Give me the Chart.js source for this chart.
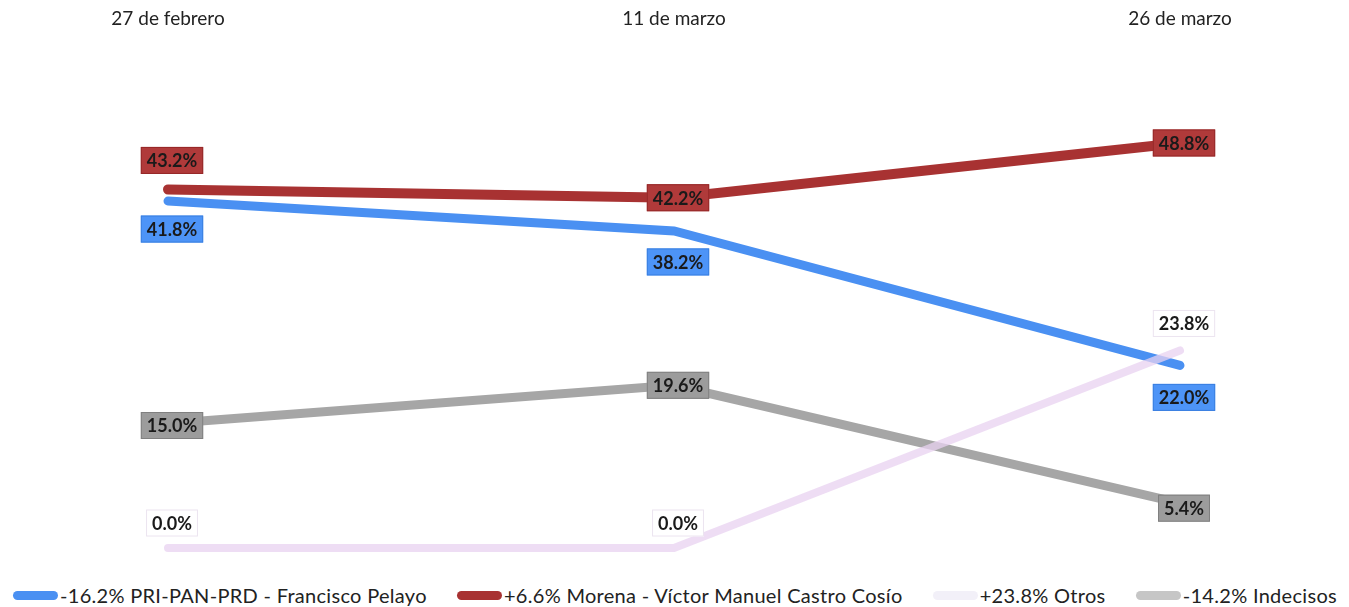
<!DOCTYPE html>
<html>
<head>
<meta charset="utf-8">
<script src="https://cdn.jsdelivr.net/npm/chart.js@4.4.1/dist/chart.umd.min.js"></script>
<style>
  html, body { margin: 0; padding: 0; background: #fff; }
  #wrap { position: relative; width: 1349px; height: 607px; }
  #chart { position: absolute; left: 0; top: 0; }
  #legend {
    position: absolute; left: 13px; right: 12px; top: 582px; height: 26px;
    display: flex; justify-content: space-between; align-items: center;
    font-family: Lato, "Open Sans", sans-serif; font-size: 20px; letter-spacing: 0.3px; color: #222;
  }
  .item { display: flex; align-items: center; white-space: nowrap; }
  .swatch { width: 45px; height: 9px; border-radius: 5px; margin-right: 2px; }
</style>
</head>
<body>
<div id="wrap">
  <canvas id="chart" width="1349" height="575"></canvas>
  <div id="legend"></div>
</div>
<script>
// valores
const fechas = ["27 de febrero", "11 de marzo", "26 de marzo"];
const priPanPrd = [41.8, 38.2, 22.0];
const morena = [43.2, 42.2, 48.8];
const otros = [0.0, 0.0, 23.8];
const indecisos = [15.0, 19.6, 5.4];
const leyendas = [
  "-16.2% PRI-PAN-PRD - Francisco Pelayo",
  "+6.6% Morena - Víctor Manuel Castro Cosío",
  "+23.8% Otros",
  "-14.2% Indecisos",
];

// etiquetas de valor en cajas
const boxLabels = {
  id: "boxLabels",
  afterDatasetsDraw(chart) {
    const ctx = chart.ctx;
    ctx.save();
    ctx.font = "bold 18px Lato, 'Open Sans', sans-serif";
    ctx.textAlign = "center";
    ctx.textBaseline = "middle";
    chart.data.datasets.forEach((ds, i) => {
      const meta = chart.getDatasetMeta(i);
      meta.data.forEach((pt, j) => {
        const txt = ds.data[j].toFixed(1) + "%";
        const w = ctx.measureText(txt).width + 12;
        const h = 27;
        const x = pt.x + 4;
        const y = pt.y + ds.labelDy[j];
        ctx.fillStyle = ds.labelBg;
        ctx.fillRect(x - w / 2, y - h / 2, w, h);
        ctx.strokeStyle = ds.labelBorder;
        ctx.lineWidth = 1;
        ctx.strokeRect(x - w / 2 + 0.5, y - h / 2 + 0.5, w - 1, h - 1);
        ctx.fillStyle = "#1a1a1a";
        ctx.fillText(txt, x, y + 1);
      });
    });
    ctx.restore();
  }
};

const colores = ["#4a90f2", "#a83232", "#eedcf2", "#a6a6a6"];

const chart = new Chart(document.getElementById("chart"), {
  type: "line",
  data: {
    labels: fechas,
    datasets: [
      {
        label: leyendas[2], data: otros, borderColor: "rgba(232,210,240,0.75)", borderWidth: 8,
        labelBg: "#ffffff", labelBorder: "#ece4f0", labelDy: [-25, -25, -27],
      },
      {
        label: leyendas[3], data: indecisos, borderColor: colores[3],
        labelBg: "#9c9c9c", labelBorder: "#808080", labelDy: [2, 0, 5],
      },
      {
        label: leyendas[0], data: priPanPrd, borderColor: colores[0],
        labelBg: "#4d94f7", labelBorder: "#3a7fe0", labelDy: [28, 31, 32],
      },
      {
        label: leyendas[1], data: morena, borderColor: colores[1], borderWidth: 10,
        labelBg: "#b03a3a", labelBorder: "#962828", labelDy: [-29, 0, 0],
      },
    ].map(d => Object.assign({
      borderWidth: 9, pointRadius: 0, tension: 0, fill: false, clip: false,
      borderCapStyle: "round",
    }, d)),
  },
  options: {
    responsive: false,
    animation: false,
    layout: { padding: { left: 168, right: 169, top: 0, bottom: 27 } },
    plugins: { legend: { display: false }, tooltip: { enabled: false } },
    scales: {
      x: {
        position: "top",
        offset: false,
        grid: { display: false, drawTicks: false },
        border: { display: false },
        ticks: {
          color: "#222", padding: 20, maxRotation: 0,
          font: { size: 19, family: "Lato, 'Open Sans', sans-serif" },
        },
        afterFit(scale) { scale.height = 50; },
      },
      y: { display: false, min: 0, max: 60 },
    },
  },
  plugins: [boxLabels],
});

// leyenda en html
const legend = document.getElementById("legend");
leyendas.forEach((txt, i) => {
  const el = document.createElement("div");
  el.className = "item";
  const sw = document.createElement("span");
  sw.className = "swatch";
  sw.style.background = i === 2 ? "#f2f0f8" : i === 3 ? "#c6c6c6" : colores[i];
  el.appendChild(sw);
  el.appendChild(document.createTextNode(txt));
  legend.appendChild(el);
});
</script>
</body>
</html>
